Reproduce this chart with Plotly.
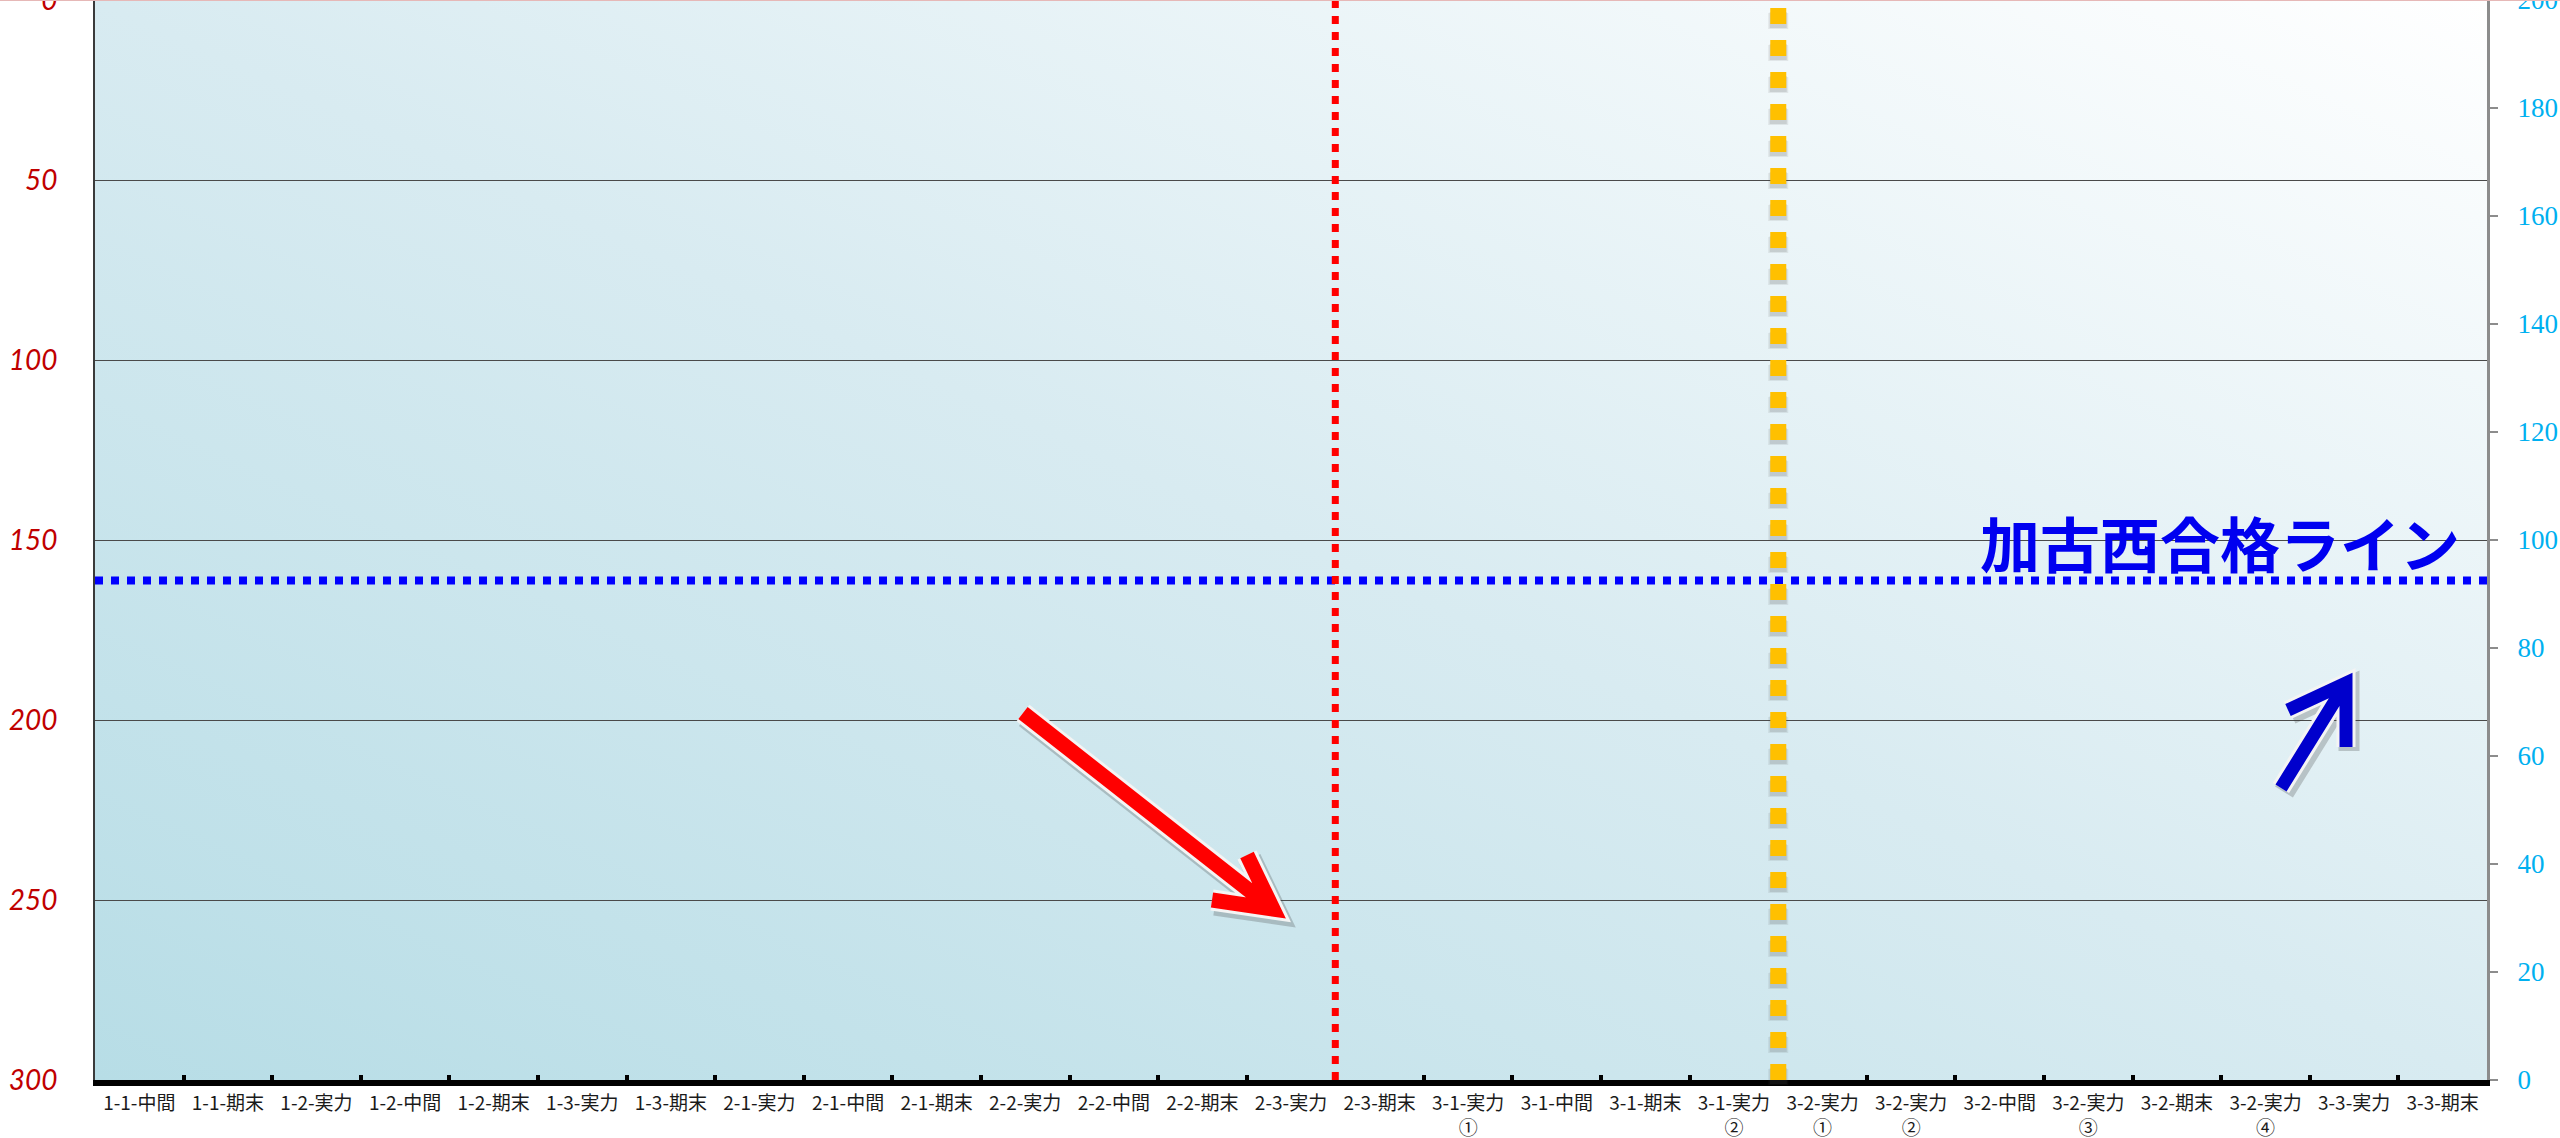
import base64
import plotly.graph_objects as go

# ---------------- data ----------------
categories = [
    "1-1-中間", "1-1-期末", "1-2-実力", "1-2-中間", "1-2-期末", "1-3-実力", "1-3-期末",
    "2-1-実力", "2-1-中間", "2-1-期末", "2-2-実力", "2-2-中間", "2-2-期末", "2-3-実力",
    "2-3-期末", "3-1-実力<br>①", "3-1-中間", "3-1-期末", "3-1-実力<br>②", "3-2-実力<br>①",
    "3-2-実力<br>②", "3-2-中間", "3-2-実力<br>③", "3-2-期末", "3-2-実力<br>④",
    "3-3-実力", "3-3-期末",
]
rank_values = [None, None, None, None, None, None, None, None, None, None, None, None, None, None,
               None, None, None, None, None, None, None, None, None, None, None, None, None]
score_values = [None, None, None, None, None, None, None, None, None, None, None, None, None, None,
                None, None, None, None, None, None, None, None, None, None, None, None, None]
rank_ticks = [0, 50, 100, 150, 200, 250, 300]
score_ticks = [0, 20, 40, 60, 80, 100, 120, 140, 160, 180, 200]
pass_line_score = 92.5
pass_line_label = "加古西合格ライン"
red_marker_pos = 13.5     # between 2-3-実力 and 2-3-期末
orange_marker_pos = 18.5  # between 3-1-実力② and 3-2-実力①

# ---------------- geometry ----------------
W, H = 2560, 1138
ML, MR, MT, MB = 95, 73, 0, 58
PW, PH = W - ML - MR, H - MT - MB


def px(x, y):
    return (x - ML) / PW, (H - MB - y) / PH


fig = go.Figure()
fig.add_trace(go.Scatter(x=categories, y=rank_values, mode="lines+markers",
                         yaxis="y", showlegend=False, hoverinfo="skip"))
fig.add_trace(go.Scatter(x=categories, y=score_values, mode="lines+markers",
                         yaxis="y2", showlegend=False, hoverinfo="skip"))

# gradient background
svg = ('<svg xmlns="http://www.w3.org/2000/svg" width="100" height="100" viewBox="0 0 100 100" '
       'preserveAspectRatio="none"><defs><linearGradient id="g" x1="0" y1="1" x2="1" y2="0">'
       '<stop offset="0" stop-color="#B7DDE6"/><stop offset="0.5" stop-color="#D8EBF1"/>'
       '<stop offset="1" stop-color="#FFFFFF"/></linearGradient></defs>'
       '<rect x="0" y="0" width="100" height="100" fill="url(#g)"/></svg>')
src = "data:image/svg+xml;base64," + base64.b64encode(svg.encode()).decode()

shapes = []
# pass line (blue dotted)
shapes.append(dict(type="line", xref="paper", yref="y2", x0=0, x1=1,
                   y0=pass_line_score, y1=pass_line_score,
                   line=dict(color="#0000FF", width=8, dash="8px,8px")))
# red dotted vertical
shapes.append(dict(type="line", xref="x", yref="paper", x0=red_marker_pos, x1=red_marker_pos,
                   y0=0, y1=1, line=dict(color="#FF0000", width=7, dash="8px,8px")))
# orange square dotted vertical with soft shadow
for k, (off, op, wd) in enumerate([(5, 0.10, 20), (4, 0.15, 17)]):
    sh = off / PH
    shapes.append(dict(type="line", xref="x", yref="paper", x0=orange_marker_pos, x1=orange_marker_pos,
                       y0=-sh, y1=1 - sh,
                       line=dict(color=f"rgba(80,80,80,{op})", width=wd, dash="16px,16px")))
shapes.append(dict(type="line", xref="x", yref="paper", x0=orange_marker_pos, x1=orange_marker_pos,
                   y0=0, y1=1, line=dict(color="#FFC000", width=16, dash="16px,16px")))
# pink top border
shapes.append(dict(type="line", xref="paper", yref="paper", x0=-ML / PW, x1=(W - ML) / PW,
                   y0=(PH + 0.5) / PH, y1=(PH + 0.5) / PH, line=dict(color="#E6B8B7", width=3)))


def arrow(start, tip, w1, w2, color, width):
    def path(dx, dy):
        pts = [px(p[0] + dx, p[1] + dy) for p in (start, tip, w1, w2)]
        s, t, a, b = pts
        return (f"M{s[0]},{s[1]} L{t[0]},{t[1]} M{a[0]},{a[1]} L{t[0]},{t[1]} L{b[0]},{b[1]}")
    out = []
    out.append(dict(type="path", xref="paper", yref="paper", path=path(3, 4),
                    line=dict(color="rgba(60,60,60,0.25)", width=width + 8)))
    out.append(dict(type="path", xref="paper", yref="paper", path=path(0, 0),
                    line=dict(color="#F4F4F4", width=width + 6)))
    out.append(dict(type="path", xref="paper", yref="paper", path=path(0, 0),
                    line=dict(color=color, width=width)))
    return out


shapes += arrow((1023, 713), (1273, 909), (1247, 855), (1212, 900), "#FF0000", 15)
shapes += arrow((2281, 788), (2346, 683), (2288, 710), (2346, 747), "#0000CC", 13)

ax, ay = px(2462, 542)
annotations = [dict(text=pass_line_label, xref="paper", yref="paper", x=ax, y=ay,
                    xanchor="right", yanchor="middle", showarrow=False,
                    font=dict(family="Noto Sans CJK JP", size=60, color="#0000F0", weight="bold"))]

fig.update_layout(
    width=W, height=H,
    margin=dict(l=ML, r=MR, t=MT, b=MB, pad=0),
    paper_bgcolor="#FFFFFF", plot_bgcolor="rgba(0,0,0,0)",
    showlegend=False,
    images=[dict(source=src, xref="paper", yref="paper", x=0, y=1, sizex=1, sizey=1,
                 sizing="stretch", layer="below", xanchor="left", yanchor="top")],
    shapes=shapes, annotations=annotations,
    xaxis=dict(type="category", range=[-0.5, len(categories) - 0.5], showgrid=False,
               showline=True, linecolor="#000000", linewidth=6, mirror=False,
               ticks="inside", tickson="boundaries", ticklen=5, tickwidth=4, tickcolor="#000000",
               tickfont=dict(family="Noto Sans CJK JP", size=19, color="#1A1A1A"),
               ticklabelstandoff=1, automargin=False, zeroline=False, tickangle=0,
               ticklabeloverflow="allow"),
    yaxis=dict(range=[300, 0], tickvals=rank_ticks, showgrid=True, gridcolor="#4A4A4A",
               gridwidth=1.3, showline=True, linecolor="#3A3A3A", linewidth=2, ticks="",
               tickfont=dict(family="Lato", size=28, color="#C00000", style="italic"),
               ticklabelstandoff=30, automargin=False, zeroline=False,
               ticklabeloverflow="allow"),
    yaxis2=dict(overlaying="y", side="right", range=[0, 200], tickvals=score_ticks,
                showgrid=False, showline=True, linecolor="#8C8C8C", linewidth=3,
                ticks="outside", ticklen=8, tickwidth=2, tickcolor="#8C8C8C",
                tickfont=dict(family="Liberation Serif", size=27, color="#00B0F0"),
                ticklabelstandoff=14, automargin=False, zeroline=False,
                ticklabeloverflow="allow"),
)

fig.write_html("out.html", config={"displayModeBar": False},
               post_script="document.body.style.margin='0';document.body.style.overflow='hidden';")
